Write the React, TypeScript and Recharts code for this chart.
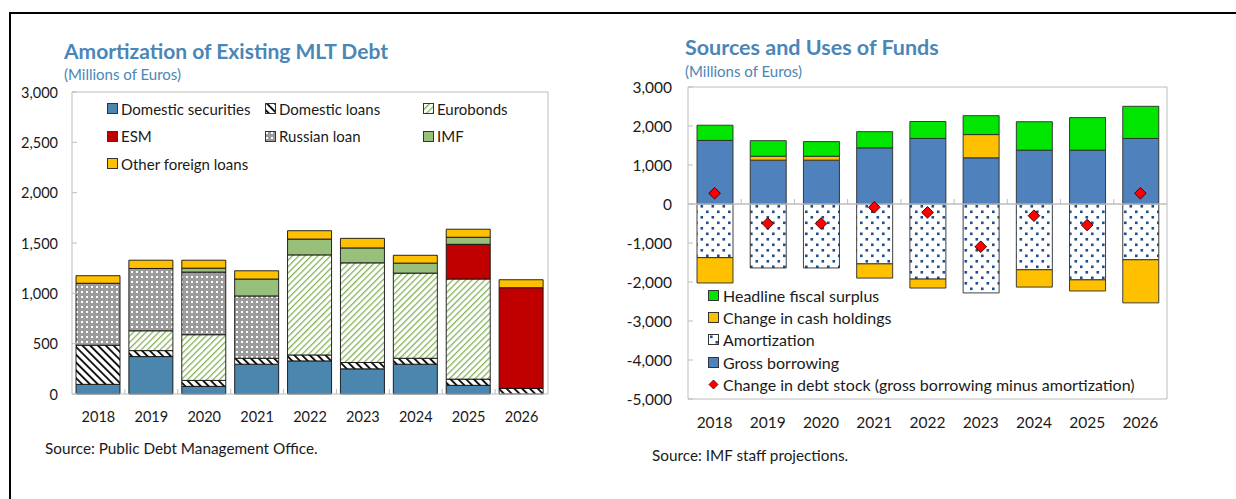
import { Bar, BarChart, ComposedChart, Line, ReferenceLine, XAxis, YAxis } from 'recharts';

const years = ['2018', '2019', '2020', '2021', '2022', '2023', '2024', '2025', '2026'];

// Amortization of existing MLT debt (millions of euros)
const domesticSecurities = [96, 372, 76, 296, 329, 250, 296, 86, 0];
const domesticLoans = [388, 59, 59, 59, 59, 63, 59, 62, 56];
const eurobonds = [0, 197, 454, 0, 994, 990, 846, 994, 0];
const esm = [0, 0, 0, 0, 0, 0, 0, 345, 1000];
const russianLoan = [616, 619, 622, 619, 0, 0, 0, 0, 0];
const imf = [0, 0, 39, 168, 157, 148, 99, 70, 0];
const otherForeignLoans = [75, 82, 79, 82, 83, 95, 78, 80, 79];
const amortTicks = [0, 500, 1000, 1500, 2000, 2500, 3000];

// Sources and uses of funds (millions of euros)
const grossBorrowing = [1630, 1125, 1125, 1440, 1680, 1185, 1380, 1380, 1680];
const amortization = [-1375, -1640, -1640, -1535, -1925, -2280, -1686, -1945, -1430];
const cashHoldings = [-650, 100, 100, -365, -230, 595, -445, -285, -1105];
const fiscalSurplus = [390, 400, 375, 415, 435, 485, 730, 835, 825];
const debtChange = [275, -500, -500, -85, -215, -1095, -300, -540, 275];
const fundsTicks = [-5000, -4000, -3000, -2000, -1000, 0, 1000, 2000, 3000];

const FONT = 'Lato, "Open Sans", sans-serif';
const INK = '#1a1a1a';
const FRAME = '#bdbdbd';
const TITLE = '#4a86b6';

const amortRows = years.map((year, i) => ({
  year,
  ds: domesticSecurities[i],
  dl: domesticLoans[i],
  eb: eurobonds[i],
  esm: esm[i],
  ru: russianLoan[i],
  imf: imf[i],
  other: otherForeignLoans[i],
}));

const fundsRows = years.map((year, i) => ({
  year,
  gb: grossBorrowing[i],
  amort: amortization[i],
  cash: cashHoldings[i],
  surplus: fiscalSurplus[i],
  debt: debtChange[i],
}));

const amortSeries = [
  { key: 'ds', name: 'Domestic securities', fill: '#4a86ad' },
  { key: 'dl', name: 'Domestic loans', fill: 'url(#domLoans)' },
  { key: 'eb', name: 'Eurobonds', fill: 'url(#eurobonds)' },
  { key: 'esm', name: 'ESM', fill: '#c00000' },
  { key: 'ru', name: 'Russian loan', fill: 'url(#russian)' },
  { key: 'imf', name: 'IMF', fill: '#98c07a' },
  { key: 'other', name: 'Other foreign loans', fill: '#ffc000' },
];

const fundsSeries = [
  { key: 'gb', name: 'Gross borrowing', fill: '#4f81bd' },
  { key: 'amort', name: 'Amortization', fill: 'url(#amortDots)' },
  { key: 'cash', name: 'Change in cash holdings', fill: '#ffc000' },
  { key: 'surplus', name: 'Headline fiscal surplus', fill: '#00e600' },
];

const fundsLegend = [
  { name: 'Headline fiscal surplus', fill: '#00e600' },
  { name: 'Change in cash holdings', fill: '#ffc000' },
  { name: 'Amortization', fill: 'url(#amortDots)' },
  { name: 'Gross borrowing', fill: '#4f81bd' },
  { name: 'Change in debt stock (gross borrowing minus amortization)', fill: 'diamond' },
];

const fmt = (v: number) => v.toLocaleString('en-US');

function Patterns() {
  return (
    <svg width={0} height={0} style={{ position: 'absolute' }}>
      <defs>
        <pattern id="domLoans" width={5.5} height={5.5} patternUnits="userSpaceOnUse" patternTransform="rotate(-45)">
          <rect width={5.5} height={5.5} fill="#fff" />
          <rect width={1.9} height={5.5} fill="#111" />
        </pattern>
        <pattern id="eurobonds" width={4.5} height={4.5} patternUnits="userSpaceOnUse" patternTransform="rotate(45)">
          <rect width={4.5} height={4.5} fill="#fff" />
          <rect width={1.3} height={4.5} fill="#86b35a" />
        </pattern>
        <pattern id="russian" width={5} height={5} patternUnits="userSpaceOnUse">
          <rect width={5} height={5} fill="#9c9c9c" />
          <rect x={1} y={1} width={2} height={2} fill="#fff" />
        </pattern>
        <pattern id="amortDots" width={11} height={11} patternUnits="userSpaceOnUse">
          <rect width={11} height={11} fill="#fff" />
          <rect x={2} y={1.5} width={2.6} height={2.6} fill="#1f4e8c" />
          <rect x={7.5} y={7} width={2.6} height={2.6} fill="#1f4e8c" />
        </pattern>
      </defs>
    </svg>
  );
}

function Swatch({ fill }: { fill: string }) {
  if (fill === 'diamond') {
    return (
      <svg width={11} height={11} style={{ flex: 'none' }}>
        <path d="M5.5,1 L10,5.5 L5.5,10 L1,5.5 Z" fill="#ff0000" stroke="#500" strokeWidth={0.8} />
      </svg>
    );
  }
  return (
    <svg width={11} height={11} style={{ flex: 'none' }}>
      <rect x={0.5} y={0.5} width={10} height={10} fill={fill} stroke="#333" strokeWidth={1} />
    </svg>
  );
}

function AmortLegend() {
  return (
    <div
      style={{
        position: 'absolute',
        left: 107,
        top: 95,
        display: 'grid',
        gridTemplateColumns: '158px 158px 140px',
        gridAutoRows: '27.6px',
        fontFamily: FONT,
        fontSize: 15,
        color: INK,
      }}
    >
      {amortSeries.map((s) => (
        <div key={s.key} style={{ display: 'flex', alignItems: 'center', gap: 3, whiteSpace: 'nowrap' }}>
          <Swatch fill={s.fill} />
          <span>{s.name}</span>
        </div>
      ))}
    </div>
  );
}

function FundsLegend() {
  return (
    <div style={{ position: 'absolute', left: 708, top: 284, fontFamily: FONT, fontSize: 16, color: INK }}>
      {fundsLegend.map((s) => (
        <div key={s.name} style={{ display: 'flex', alignItems: 'center', gap: 4, height: 22.3, whiteSpace: 'nowrap' }}>
          <Swatch fill={s.fill} />
          <span>{s.name}</span>
        </div>
      ))}
    </div>
  );
}

const makeLeftTick = (size: number, gap: number) => (props: any) => {
  const { x, y, payload } = props;
  return (
    <g>
      <line x1={x} x2={x + 5} y1={y} y2={y} stroke={FRAME} />
      <text x={x - gap} y={y} textAnchor="end" dominantBaseline="central" fontSize={size} fill={INK} fontFamily={FONT}>
        {fmt(payload.value)}
      </text>
    </g>
  );
};

const makeRightTick = (size: number, gap: number) => (props: any) => {
  const { x, y, payload } = props;
  return (
    <g>
      <line x1={x - 5} x2={x} y1={y} y2={y} stroke={FRAME} />
      <text x={x + gap} y={y} textAnchor="start" dominantBaseline="central" fontSize={size} fill={INK} fontFamily={FONT}>
        {fmt(payload.value)}
      </text>
    </g>
  );
};

// year labels plus the little marks between categories (at lineY)
const makeYearTick = (size: number, step: number, drop: number, lineY: number | null) => (props: any) => {
  const { x, y, payload, index } = props;
  const markY = lineY ?? y;
  return (
    <g>
      {index < years.length - 1 && (
        <line x1={x + step / 2} x2={x + step / 2} y1={markY - 5} y2={markY} stroke={FRAME} />
      )}
      <text x={x} y={y + drop} textAnchor="middle" fontSize={size} fill={INK} fontFamily={FONT}>
        {payload.value}
      </text>
    </g>
  );
};

const DiamondDot = (props: any) => {
  const { cx, cy, index } = props;
  const r = 5.8;
  return (
    <path
      key={`d-${index}`}
      d={`M${cx},${cy - r} L${cx + r},${cy} L${cx},${cy + r} L${cx - r},${cy} Z`}
      fill="#ff0000"
      stroke="#4a0000"
      strokeWidth={1}
    />
  );
};

function AmortizationChart() {
  const plotW = 620 - 72 - 72;
  return (
    <BarChart width={620} height={499} data={amortRows} margin={{ top: 92, right: 0, bottom: 0, left: 0 }} barSize={44}>
      <XAxis
        dataKey="year"
        height={105}
        interval={0}
        axisLine={{ stroke: FRAME }}
        tickLine={false}
        tickSize={0}
        tickMargin={0}
        tick={makeYearTick(14.5, plotW / years.length, 28, null)}
      />
      <YAxis
        yAxisId="left"
        width={72}
        domain={[0, 3000]}
        ticks={amortTicks}
        axisLine={{ stroke: FRAME }}
        tickLine={false}
        tickSize={0}
        tickMargin={0}
        tick={makeLeftTick(14.5, 14)}
      />
      <YAxis
        yAxisId="right"
        orientation="right"
        width={72}
        domain={[0, 3000]}
        ticks={amortTicks}
        axisLine={{ stroke: FRAME }}
        tickLine={false}
        tickSize={0}
        tickMargin={0}
        tick={makeRightTick(14.5, 17)}
      />
      <ReferenceLine yAxisId="left" y={3000} stroke={FRAME} />
      {amortSeries.map((s) => (
        <Bar
          key={s.key}
          yAxisId="left"
          dataKey={s.key}
          name={s.name}
          stackId="amort"
          fill={s.fill}
          stroke="#111"
          strokeWidth={0.9}
          isAnimationActive={false}
        />
      ))}
    </BarChart>
  );
}

function FundsChart() {
  const plotW = 620 - 72 - 69;
  const plotTop = 87;
  const plotH = 312;
  const zeroY = plotTop + (plotH * 3000) / 8000;
  return (
    <ComposedChart
      width={620}
      height={499}
      data={fundsRows}
      stackOffset="sign"
      margin={{ top: plotTop, right: 0, bottom: 0, left: 0 }}
      barSize={36}
    >
      <XAxis
        dataKey="year"
        height={100}
        interval={0}
        axisLine={{ stroke: FRAME }}
        tickLine={false}
        tickSize={0}
        tickMargin={0}
        tick={makeYearTick(15.5, plotW / years.length, 29, zeroY)}
      />
      <YAxis
        yAxisId="left"
        width={72}
        domain={[-5000, 3000]}
        ticks={fundsTicks}
        axisLine={{ stroke: FRAME }}
        tickLine={false}
        tickSize={0}
        tickMargin={0}
        tick={makeLeftTick(15.5, 16)}
      />
      <YAxis
        yAxisId="right"
        orientation="right"
        width={69}
        domain={[-5000, 3000]}
        ticks={fundsTicks}
        axisLine={{ stroke: FRAME }}
        tickLine={false}
        tickSize={0}
        tickMargin={0}
        tick={makeRightTick(15.5, 13)}
      />
      <ReferenceLine yAxisId="left" y={3000} stroke={FRAME} />
      <ReferenceLine yAxisId="left" y={0} stroke={FRAME} strokeWidth={1.3} />
      {fundsSeries.map((s) => (
        <Bar
          key={s.key}
          yAxisId="left"
          dataKey={s.key}
          name={s.name}
          stackId="funds"
          fill={s.fill}
          stroke="#2a2a2a"
          strokeWidth={0.9}
          isAnimationActive={false}
        />
      ))}
      <Line
        yAxisId="left"
        dataKey="debt"
        name="Change in debt stock"
        stroke="none"
        dot={DiamondDot}
        activeDot={false}
        isAnimationActive={false}
      />
    </ComposedChart>
  );
}

export default function App() {
  return (
    <div
      style={{
        position: 'absolute',
        left: 0,
        top: 0,
        width: 1236,
        height: 499,
        background: '#fff',
        overflow: 'hidden',
        fontFamily: FONT,
      }}
    >
      <Patterns />
      <div
        style={{
          position: 'absolute',
          left: 9,
          top: 12,
          width: 1400,
          height: 600,
          borderTop: '2px solid #000',
          borderLeft: '2px solid #000',
        }}
      />

      <div style={{ position: 'absolute', left: 0, top: 0 }}>
        <AmortizationChart />
      </div>
      <div style={{ position: 'absolute', left: 616, top: 0 }}>
        <FundsChart />
      </div>

      <div style={{ position: 'absolute', left: 64, top: 38, fontSize: 21, fontWeight: 700, color: TITLE, whiteSpace: 'nowrap' }}>
        Amortization of Existing MLT Debt
      </div>
      <div style={{ position: 'absolute', left: 64, top: 65, fontSize: 15, color: TITLE, whiteSpace: 'nowrap' }}>
        (Millions of Euros)
      </div>
      <div style={{ position: 'absolute', left: 685, top: 34, fontSize: 21.5, fontWeight: 700, color: TITLE, whiteSpace: 'nowrap' }}>
        Sources and Uses of Funds
      </div>
      <div style={{ position: 'absolute', left: 685, top: 62, fontSize: 15, color: TITLE, whiteSpace: 'nowrap' }}>
        (Millions of Euros)
      </div>

      <AmortLegend />
      <FundsLegend />

      <div style={{ position: 'absolute', left: 45, top: 439, fontSize: 15.3, color: INK, whiteSpace: 'nowrap' }}>
        Source: Public Debt Management Office.
      </div>
      <div style={{ position: 'absolute', left: 652, top: 446, fontSize: 15.3, color: INK, whiteSpace: 'nowrap' }}>
        Source: IMF staff projections.
      </div>
    </div>
  );
}
